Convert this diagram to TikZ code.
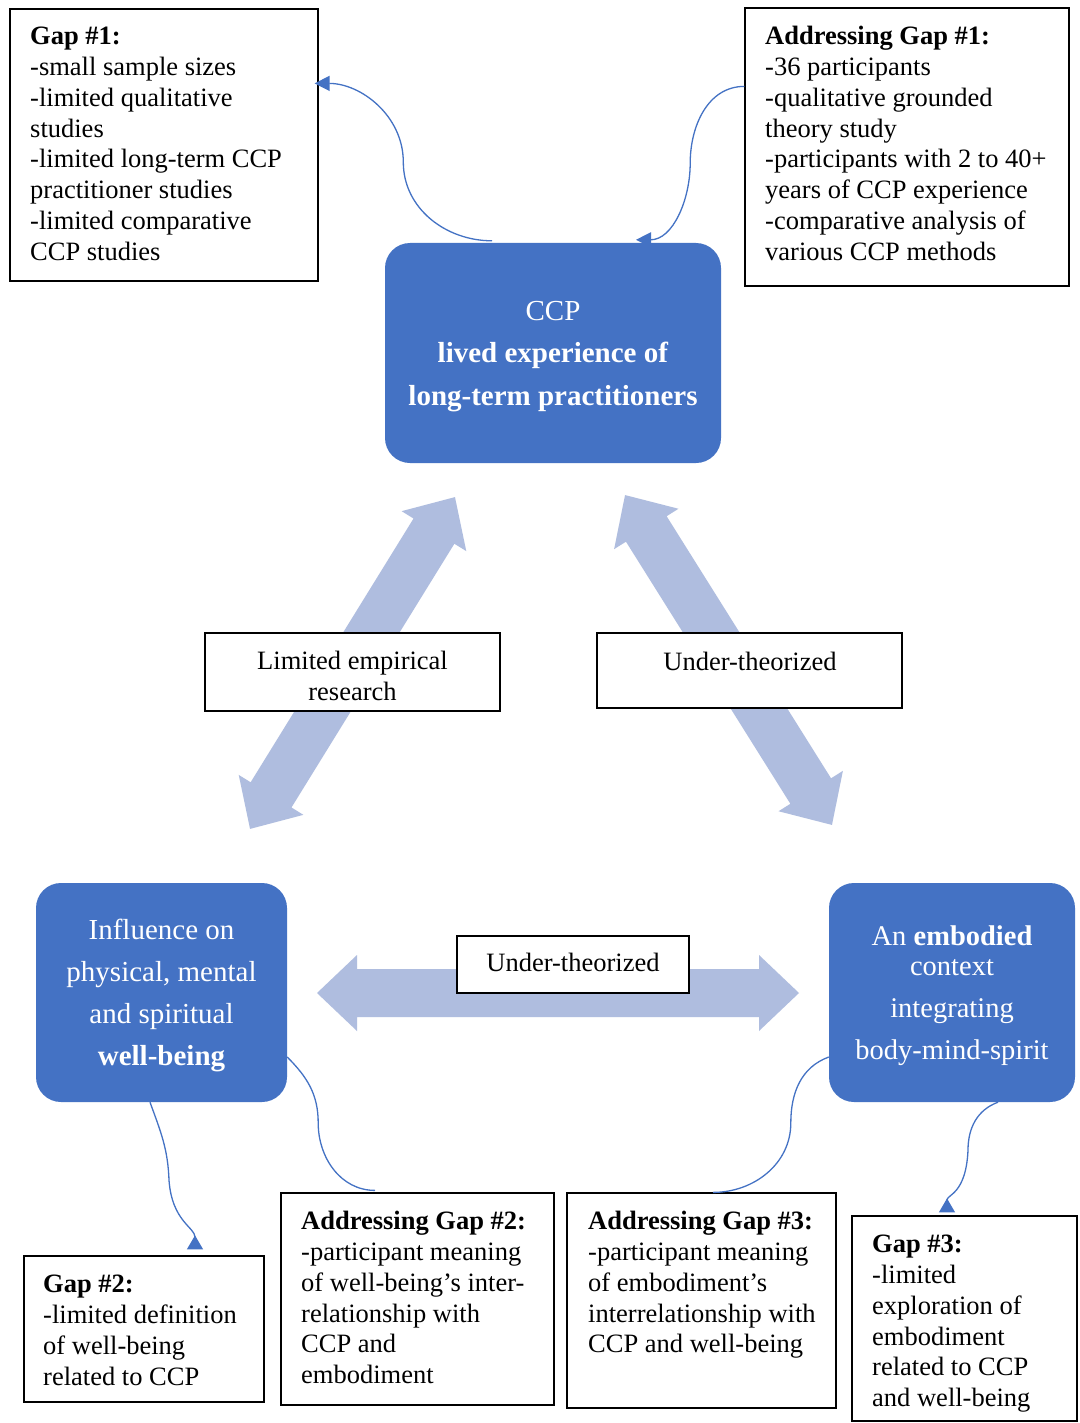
\documentclass[tikz,border=0pt]{standalone}
\usepackage{fontspec}
\setmainfont{Liberation Serif}
\usetikzlibrary{arrows.meta,calc}

\definecolor{boxblue}{RGB}{68,114,196}
\definecolor{arrowblue}{RGB}{175,189,223}

% invisible struts that fix the height of a first line
\newcommand\capstrut{\rule{0pt}{24pt}}
\newcommand\capstrutB{\rule{0pt}{26pt}}

\tikzset{
  gapbox/.style={draw=black, line width=1.2pt, fill=white, inner sep=0pt},
  bluebox/.style={fill=boxblue, rounded corners=25pt, inner sep=0pt},
  bodytext/.style={inner sep=0pt, anchor=north west, align=left,
    font=\fontsize{26.5}{30.8}\selectfont},
  labeltext/.style={inner sep=0pt, anchor=north, align=center,
    font=\fontsize{26.5}{30.8}\selectfont},
  bluetext/.style={inner sep=0pt, anchor=north, align=center, text=white},
  link/.style={draw=boxblue, line width=1.3pt},
  headed/.style={-{Triangle[length=15pt,width=15pt]}},
  backheaded/.style={-{Triangle[reversed,length=14pt,width=16pt]}},
  pics/dblarrow/.style={code={
    \fill[arrowblue] (-#1,0) -- ({-#1+40},38) -- ({-#1+40},24) -- ({#1-40},24)
      -- ({#1-40},38) -- (#1,0) -- ({#1-40},-38) -- ({#1-40},-24)
      -- ({-#1+40},-24) -- ({-#1+40},-38) -- cycle;}}
}

\begin{document}
\begin{tikzpicture}[x=1pt,y=1pt]
\path[use as bounding box, fill=white] (0,0) rectangle (1079,-1423);

% broad two-headed arrows between the three themes
\pic[rotate=58.3] at (352.5,-663) {dblarrow=195};
\pic[rotate=-57.9] at (728.5,-660) {dblarrow=194.7};
\pic at (558,-993) {dblarrow=241};

% the three themes
\node[bluebox, minimum width=336pt, minimum height=220pt] (ccp) at (553,-353) {};
\node[bluetext, font=\fontsize{29}{42.5}\selectfont] (ccptext) at (553,-294)
  {\capstrutB CCP\\\textbf{lived experience of}\\\textbf{long-term practitioners}};

\node[bluebox, minimum width=251pt, minimum height=219pt] (infl) at (161.5,-992.5) {};
\node[bluetext, font=\fontsize{29}{42}\selectfont] (infltext) at (161.5,-913)
  {\capstrutB Influence on\\physical, mental\\and spiritual\\\textbf{well-being}};

\node[bluebox, minimum width=246pt, minimum height=219pt] (embo) at (952,-992.5) {};
\node[bluetext, font=\fontsize{28.5}{30}\selectfont] (embotext) at (952,-919)
  {\capstrutB An \textbf{embodied}\\context\\[12.5pt]integrating\\[12pt]body-mind-spirit};

% relation labels
\node[gapbox, minimum width=295pt, minimum height=78pt] (lab1) at (352.5,-672) {};
\node[labeltext] (lab1text) at (352.5,-645) {\capstrut Limited empirical\\research};
\node[gapbox, minimum width=305pt, minimum height=75pt] (lab2) at (749.5,-670.5) {};
\node[labeltext] (lab2text) at (750,-646) {\capstrut Under-theorized};
\node[gapbox, minimum width=232pt, minimum height=57pt] (lab3) at (573,-964.5) {};
\node[labeltext] (lab3text) at (573,-947) {\capstrut Under-theorized};

% gaps and how they are addressed
\node[gapbox, minimum width=308pt, minimum height=272pt] (gap1) at (164,-145) {};
\node[bodytext] (gap1text) at (30,-20.5)
  {\capstrut\textbf{Gap \#1:}\\-small sample sizes\\-limited qualitative\\studies\\
   -limited long-term CCP\\practitioner studies\\-limited comparative\\CCP studies};

\node[gapbox, minimum width=324pt, minimum height=278pt] (addr1) at (907,-147) {};
\node[bodytext] (addr1text) at (765,-20.5)
  {\capstrut\textbf{Addressing Gap \#1:}\\-36 participants\\-qualitative grounded\\theory study\\
   -participants with 2 to 40+\\years of CCP experience\\-comparative analysis of\\various CCP methods};

\node[gapbox, minimum width=273pt, minimum height=212pt] (addr2) at (417.5,-1299) {};
\node[bodytext] (addr2text) at (301,-1205.5)
  {\capstrut\textbf{Addressing Gap \#2:}\\-participant meaning\\of well-being’s inter-\\relationship with\\CCP and\\embodiment};

\node[gapbox, minimum width=269pt, minimum height=215pt] (addr3) at (701.5,-1300.5) {};
\node[bodytext] (addr3text) at (588,-1205.5)
  {\capstrut\textbf{Addressing Gap \#3:}\\-participant meaning\\of embodiment’s\\interrelationship with\\CCP and well-being};

\node[gapbox, minimum width=240pt, minimum height=146pt] (gap2) at (144,-1329) {};
\node[bodytext] (gap2text) at (43,-1268.5)
  {\capstrut\textbf{Gap \#2:}\\-limited definition\\of well-being\\related to CCP};

\node[gapbox, minimum width=225pt, minimum height=205pt] (gap3) at (964.5,-1318.5) {};
\node[bodytext] (gap3text) at (872,-1228.5)
  {\capstrut\textbf{Gap \#3:}\\-limited\\exploration of\\embodiment\\related to CCP\\and well-being};

% curved links between themes and gap boxes
\coordinate (c1s) at ([xshift=-61pt,yshift=2pt]ccp.north);
\coordinate (c1e) at ([xshift=-4pt,yshift=-75pt]gap1.north east);
\draw[link, headed] (c1s) to[out=180,in=-90] ($(c1s)!0.5!(c1e)$) to[out=90,in=0] (c1e);

\coordinate (c2s) at ([yshift=-79pt]addr1.north west);
\coordinate (c2e) at ([xshift=83pt,yshift=3pt]ccp.north);
\draw[link, headed] (c2s) to[out=180,in=90] ($(c2s)!0.5!(c2e)$) to[out=-90,in=0] (c2e);

\coordinate (c3s) at ([xshift=-11.5pt]infl.south);
\coordinate (c3e) at ([xshift=51pt,yshift=6pt]gap2.north);
\draw[link, backheaded] (c3s) to[out=-70,in=92] ($(c3s)+(19,-78)$)
  .. controls ($(c3e)+(-23,28)$) and ($(c3e)+(0,22)$) .. (c3e);

\coordinate (c4s) at ([yshift=-64.5pt]infl.east);
\coordinate (c4e) at ([xshift=-42.5pt,yshift=2pt]addr2.north);
\draw[link] (c4s) to[out=-45,in=90] ($(c4s)+(31,-66)$) to[out=-90,in=180] (c4e);

\coordinate (c5s) at ([xshift=46pt]embo.south);
\coordinate (c5e) at ([xshift=-17.5pt,yshift=3pt]gap3.north);
\draw[link, backheaded] (c5s) to[out=200,in=90] ($(c5s)+(-30,-48)$)
  .. controls ($(c5e)+(19,18)$) and ($(c5e)+(0,18)$) .. (c5e);

\coordinate (c6s) at ([yshift=-64.5pt]embo.west);
\coordinate (c6e) at ([xshift=11.5pt]addr3.north);
\draw[link] (c6s) to[out=200,in=90] ($(c6s)+(-38,-66)$) to[out=-90,in=0] (c6e);
\end{tikzpicture}
\end{document}
